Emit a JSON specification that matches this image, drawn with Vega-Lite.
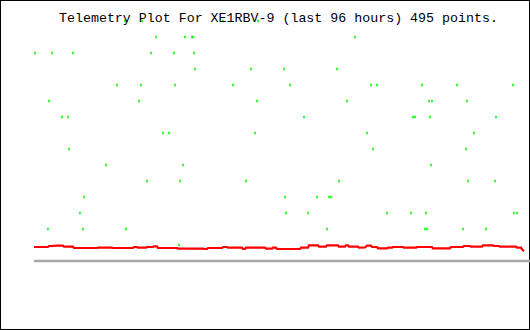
{
  "$schema": "https://vega.github.io/schema/vega-lite/v6.json",
  "width": 530,
  "height": 330,
  "padding": 0,
  "autosize": {"type": "none"},
  "background": "white",
  "config": {"view": {"stroke": "black", "strokeWidth": 2}},
  "title": {
    "text": "Telemetry Plot For XE1RBV-9 (last 96 hours) 495 points.",
    "font": "Liberation Mono",
    "fontSize": 13.3,
    "fontWeight": "normal",
    "color": "black",
    "anchor": "start",
    "frame": "group",
    "dx": 59,
    "offset": -24
  },
  "datasets": {
    "green": [
      {"t": 17.83, "v": 240}, {"t": 21.16, "v": 240}, {"t": 37.03, "v": 240}, {"t": 43.89, "v": 240},
      {"t": 23.90, "v": 224}, {"t": 29.58, "v": 224}, {"t": 30.96, "v": 224}, {"t": 31.15, "v": 224}, {"t": 62.89, "v": 224},
      {"t": 0.20, "v": 208}, {"t": 3.53, "v": 208}, {"t": 7.64, "v": 208}, {"t": 22.92, "v": 208}, {"t": 27.43, "v": 208}, {"t": 31.35, "v": 208},
      {"t": 31.54, "v": 192}, {"t": 42.51, "v": 192}, {"t": 48.98, "v": 192}, {"t": 59.36, "v": 192},
      {"t": 16.26, "v": 176}, {"t": 20.96, "v": 176}, {"t": 27.62, "v": 176}, {"t": 38.99, "v": 176}, {"t": 50.16, "v": 176}, {"t": 66.03, "v": 176}, {"t": 67.20, "v": 176}, {"t": 76.02, "v": 176}, {"t": 82.87, "v": 176}, {"t": 93.85, "v": 176},
      {"t": 2.94, "v": 160}, {"t": 20.57, "v": 160}, {"t": 43.69, "v": 160}, {"t": 61.32, "v": 160}, {"t": 77.39, "v": 160}, {"t": 77.98, "v": 160}, {"t": 84.83, "v": 160},
      {"t": 5.49, "v": 144}, {"t": 6.66, "v": 144}, {"t": 52.90, "v": 144}, {"t": 74.25, "v": 144}, {"t": 74.65, "v": 144}, {"t": 77.58, "v": 144}, {"t": 90.52, "v": 144},
      {"t": 25.27, "v": 128}, {"t": 26.45, "v": 128}, {"t": 43.30, "v": 128}, {"t": 65.24, "v": 128}, {"t": 86.20, "v": 128},
      {"t": 6.86, "v": 112}, {"t": 66.42, "v": 112}, {"t": 84.64, "v": 112},
      {"t": 14.11, "v": 96}, {"t": 29.19, "v": 96}, {"t": 77.78, "v": 96},
      {"t": 22.14, "v": 80}, {"t": 28.60, "v": 80}, {"t": 41.54, "v": 80}, {"t": 59.76, "v": 80}, {"t": 85.03, "v": 80}, {"t": 90.32, "v": 80},
      {"t": 9.80, "v": 64}, {"t": 49.18, "v": 64}, {"t": 55.45, "v": 64}, {"t": 57.80, "v": 64}, {"t": 58.19, "v": 64},
      {"t": 9.01, "v": 48}, {"t": 49.37, "v": 48}, {"t": 53.68, "v": 48}, {"t": 69.16, "v": 48}, {"t": 73.86, "v": 48}, {"t": 76.80, "v": 48}, {"t": 94.04, "v": 48}, {"t": 94.63, "v": 48},
      {"t": 2.74, "v": 32}, {"t": 9.60, "v": 32}, {"t": 18.02, "v": 32}, {"t": 57.40, "v": 32}, {"t": 76.60, "v": 32}, {"t": 77.00, "v": 32}, {"t": 84.05, "v": 32}, {"t": 88.56, "v": 32},
      {"t": 28.41, "v": 16}
    ],
    "red": [
      {"t": 0, "v": 14}, {"t": 2.74, "v": 14}, {"t": 2.94, "v": 15}, {"t": 3.33, "v": 15}, {"t": 4.51, "v": 15.3}, {"t": 5.68, "v": 15.3},
      {"t": 5.88, "v": 14.3}, {"t": 7.64, "v": 14.3}, {"t": 7.84, "v": 13}, {"t": 12.34, "v": 13}, {"t": 12.54, "v": 13.3}, {"t": 15.28, "v": 13.3},
      {"t": 15.48, "v": 13}, {"t": 19.40, "v": 13}, {"t": 19.59, "v": 14}, {"t": 20.18, "v": 14}, {"t": 20.38, "v": 13.3}, {"t": 21.94, "v": 13.3},
      {"t": 22.14, "v": 14}, {"t": 23.31, "v": 14}, {"t": 23.51, "v": 14.7}, {"t": 24.10, "v": 14.7}, {"t": 24.29, "v": 13}, {"t": 28.02, "v": 13},
      {"t": 28.21, "v": 12.3}, {"t": 33.11, "v": 12.5}, {"t": 33.31, "v": 12}, {"t": 33.89, "v": 12}, {"t": 34.09, "v": 13}, {"t": 36.83, "v": 13},
      {"t": 37.03, "v": 14}, {"t": 37.81, "v": 14}, {"t": 38.01, "v": 13.3}, {"t": 40.75, "v": 13.3}, {"t": 40.95, "v": 12}, {"t": 41.34, "v": 12},
      {"t": 41.54, "v": 13.3}, {"t": 45.26, "v": 13.3}, {"t": 45.45, "v": 12.3}, {"t": 46.63, "v": 12.3}, {"t": 46.82, "v": 13.3}, {"t": 47.41, "v": 13.3},
      {"t": 47.61, "v": 12}, {"t": 52.11, "v": 12}, {"t": 52.31, "v": 13.3}, {"t": 53.68, "v": 13.3}, {"t": 53.88, "v": 15.7}, {"t": 55.64, "v": 15.7},
      {"t": 55.84, "v": 14.3}, {"t": 57.21, "v": 14.3}, {"t": 57.40, "v": 15.7}, {"t": 59.56, "v": 15.7}, {"t": 59.76, "v": 14.3}, {"t": 60.93, "v": 14.3},
      {"t": 61.13, "v": 15.7}, {"t": 61.52, "v": 15.7}, {"t": 61.71, "v": 14.3}, {"t": 63.48, "v": 14.3}, {"t": 63.67, "v": 13.3}, {"t": 64.85, "v": 13.5},
      {"t": 65.24, "v": 15.3}, {"t": 66.03, "v": 15.3}, {"t": 66.22, "v": 14}, {"t": 67.20, "v": 14}, {"t": 67.40, "v": 12.7}, {"t": 69.16, "v": 12.7},
      {"t": 69.36, "v": 13.3}, {"t": 70.14, "v": 13.3}, {"t": 70.34, "v": 14}, {"t": 72.29, "v": 14}, {"t": 72.49, "v": 13.3}, {"t": 74.84, "v": 13.3},
      {"t": 75.04, "v": 14}, {"t": 77.98, "v": 14}, {"t": 78.17, "v": 12.7}, {"t": 81.50, "v": 12.7}, {"t": 81.70, "v": 14}, {"t": 84.05, "v": 14},
      {"t": 84.25, "v": 15}, {"t": 85.42, "v": 15}, {"t": 85.62, "v": 14.3}, {"t": 87.77, "v": 14.3}, {"t": 87.97, "v": 15.7}, {"t": 89.93, "v": 15.7},
      {"t": 90.12, "v": 15}, {"t": 91.10, "v": 15}, {"t": 91.30, "v": 14.3}, {"t": 94.43, "v": 14.3}, {"t": 94.63, "v": 13.3}, {"t": 95.41, "v": 13.3},
      {"t": 95.61, "v": 11.7}, {"t": 96.00, "v": 9.7}
    ],
    "base": [{"t": 0, "t2": 97.2, "v": 0}]
  },
  "layer": [
    {
      "data": {"name": "base"},
      "mark": {"type": "rule", "color": "#a9a9a9", "strokeWidth": 2.5, "clip": true},
      "encoding": {
        "x": {"field": "t", "type": "quantitative", "scale": {"domain": [-6.661, 97.18], "nice": false, "zero": false}, "axis": null},
        "x2": {"field": "t2"},
        "y": {"field": "v", "type": "quantitative", "scale": {"domain": [-69, 261], "nice": false, "zero": false}, "axis": null}
      }
    },
    {
      "data": {"name": "red"},
      "mark": {"type": "line", "color": "#ff0000", "strokeWidth": 2.2, "interpolate": "linear", "clip": true},
      "encoding": {
        "x": {"field": "t", "type": "quantitative"},
        "y": {"field": "v", "type": "quantitative"}
      }
    },
    {
      "data": {"name": "green"},
      "mark": {"type": "point", "shape": "M-0.6,-1H0.6V1H-0.6Z", "size": 7, "filled": true, "color": "#00ff00", "opacity": 1, "strokeWidth": 0, "clip": true},
      "encoding": {
        "x": {"field": "t", "type": "quantitative"},
        "y": {"field": "v", "type": "quantitative"}
      }
    }
  ]
}
